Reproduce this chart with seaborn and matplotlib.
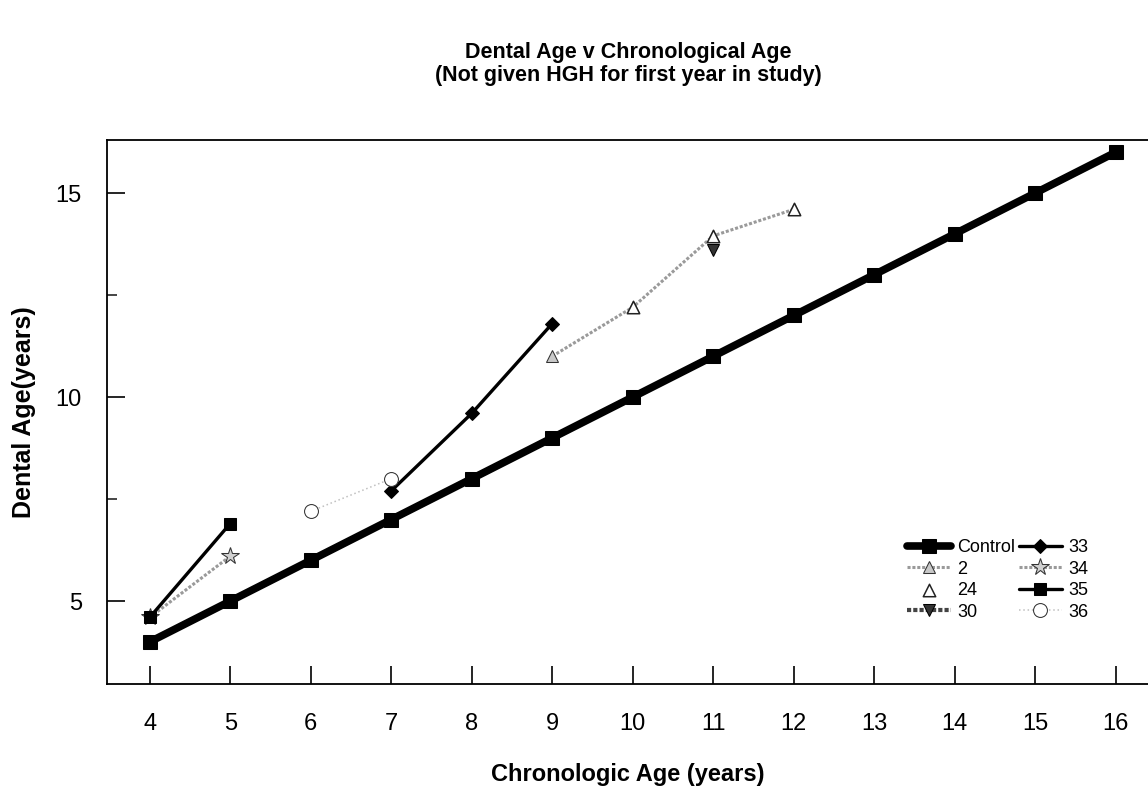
import numpy as np
import pandas as pd
import matplotlib
matplotlib.use("Agg")
import matplotlib.pyplot as plt
import seaborn as sns

# chronological age (x) vs dental age (y)
control_x = [4, 5, 6, 7, 8, 9, 10, 11, 12, 13, 14, 15, 16]
control_y = [4, 5, 6, 7, 8, 9, 10, 11, 12, 13, 14, 15, 16]
s2_x = [9, 10, 11, 12]
s2_y = [11.0, 12.2, 13.95, 14.6]
s24_x = [10, 11, 12]
s24_y = [12.2, 13.95, 14.6]
s30_x = [11]
s30_y = [13.6]
s33_x = [7, 8, 9]
s33_y = [7.7, 9.6, 11.8]
s34_x = [4, 5]
s34_y = [4.6, 6.1]
s35_x = [4, 5]
s35_y = [4.6, 6.9]
s36_x = [6, 7]
s36_y = [7.2, 8.0]

x_ticks = [4, 5, 6, 7, 8, 9, 10, 11, 12, 13, 14, 15, 16]
y_ticks = [5, 10, 15]

sns.set_theme(style="ticks")
plt.rcParams['font.family'] = ['Liberation Sans', 'DejaVu Sans']
plt.rcParams['text.color'] = 'black'
plt.rcParams['axes.labelcolor'] = 'black'

fig = plt.figure(figsize=(11.48, 7.88), dpi=100)
ax = fig.add_axes([0.0932, 0.132, 0.9068, 0.6904])

# control
sns.lineplot(x=control_x, y=control_y, ax=ax, color='black', lw=5.5,
             marker='s', markersize=10.5, markeredgecolor='black', label='Control')
# 2
sns.lineplot(x=s2_x, y=s2_y, ax=ax, color='#9a9a9a', lw=2.2, linestyle=(0, (1, 0.6)),
             marker='^', markersize=9, markerfacecolor='#c8c8c8', markeredgecolor='#333333',
             label='2')
# 24 - markers only
sns.scatterplot(x=s24_x, y=s24_y, ax=ax, marker='^', s=80, facecolor='white',
                edgecolor='#222222', linewidth=1.1, label='24', zorder=5)
# 30
sns.lineplot(x=s30_x, y=s30_y, ax=ax, color='#444444', lw=3, linestyle=(0, (1, 0.5)),
             marker='v', markersize=9, markerfacecolor='#333333', markeredgecolor='black',
             label='30')
# 33
sns.lineplot(x=s33_x, y=s33_y, ax=ax, color='black', lw=2.4,
             marker='D', markersize=7, markeredgecolor='black', label='33')
# 34
sns.lineplot(x=s34_x, y=s34_y, ax=ax, color='#9a9a9a', lw=2.2, linestyle=(0, (1, 0.6)),
             marker='*', markersize=13, markerfacecolor='#d0d0d0', markeredgecolor='#333333',
             label='34')
# 35
sns.lineplot(x=s35_x, y=s35_y, ax=ax, color='black', lw=2.4,
             marker='s', markersize=9, markeredgecolor='black', label='35')
# 36
sns.lineplot(x=s36_x, y=s36_y, ax=ax, color='#c0c0c0', lw=1.1, linestyle=(0, (1, 1.8)),
             marker='o', markersize=10, markerfacecolor='white', markeredgecolor='#333333',
             label='36')

ax.set_xlim(3.47, 16.4)
ax.set_ylim(2.97, 16.3)
ax.set_xticks(x_ticks)
ax.set_yticks(y_ticks)
ax.set_yticks([7.5, 12.5], minor=True)
ax.tick_params(axis='both', which='major', direction='in', length=13, width=1.2,
               labelsize=17, colors='black')
ax.tick_params(axis='x', which='major', pad=21)
ax.tick_params(axis='y', which='major', pad=18)
ax.tick_params(axis='y', which='minor', direction='in', length=7, width=1.2)
for s in ['left', 'bottom', 'top']:
    ax.spines[s].set_linewidth(1.3)
    ax.spines[s].set_color('black')
ax.spines['right'].set_visible(False)

ax.set_xlabel('Chronologic Age (years)', fontsize=17, fontweight='bold', labelpad=20)
ax.set_ylabel('Dental Age(years)', fontsize=18, fontweight='bold', labelpad=14)
fig.suptitle('Dental Age v Chronological Age\n(Not given HGH for first year in study)',
             x=0.547, y=0.947, fontsize=15.5, fontweight='bold', linespacing=1.15)

ax.legend(ncol=2, loc='lower left', bbox_to_anchor=(0.762, 0.103), frameon=False,
          fontsize=13, handlelength=2.4, columnspacing=0.2, labelspacing=0.25,
          handletextpad=0.35, borderaxespad=0)

fig.savefig('out.png', dpi=100)
